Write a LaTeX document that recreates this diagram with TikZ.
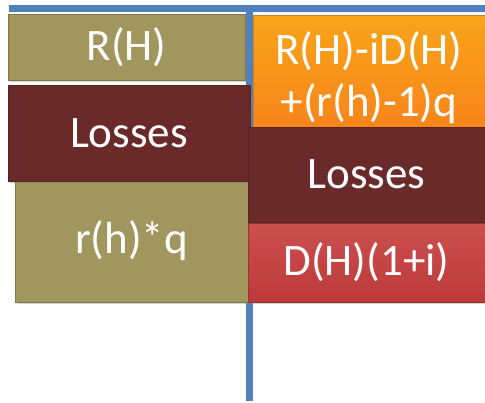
\documentclass[tikz,border=0pt]{standalone}
\usepackage{fontspec}
\setmainfont{Carlito}
\usepackage{xcolor}
\usetikzlibrary{shadows}

\definecolor{olive}{HTML}{A0965E}
\definecolor{lossred}{HTML}{6B2A2A}
\definecolor{debtorange}{HTML}{F7941E}
\definecolor{debtred}{HTML}{C63C3C}
\definecolor{tblue}{HTML}{4F81BD}

\begin{document}
\begin{tikzpicture}[
x=1pt, y=-1pt,
    entry/.style={rectangle, inner sep=0pt, text=white, align=center,
        font=\fontsize{45}{52}\selectfont,
        drop shadow={shadow xshift=2pt, shadow yshift=-2pt, opacity=0.35}},
    assetbox/.style={entry, fill=olive, draw=olive!80!black, line width=0.6pt},
    lossbox/.style={entry, fill=lossred, draw=lossred!80!black, line width=0.6pt},
    orangebox/.style={entry, top color=debtorange!85!yellow, bottom color=debtorange!90!red, draw=debtorange!85!black, line width=0.6pt},
    redbox/.style={entry, top color=debtred!90!white, bottom color=debtred!95!black, draw=debtred!80!black, line width=0.6pt},
    tline/.style={draw=tblue, line width=7pt}
]
    \useasboundingbox (0,0) rectangle (485,402);

    % T-account
    \coordinate (tleft) at (9,8.5);
    \coordinate (tright) at (485,8.5);
    \coordinate (ttop) at (249,5);
    \coordinate (tbottom) at (249,401);
    \draw[tline] (tleft) -- (tright);
    \draw[tline] (ttop) -- (tbottom);

    % Left side
    \node[assetbox, minimum width=237pt, minimum height=66pt] (rh) at (126.5,47) {R(H)};
    \node[assetbox, minimum width=233pt, minimum height=123pt] (rhq) at (131.5,240.5) {r(h)*q};
    \node[lossbox, minimum width=242pt, minimum height=96pt] (lossleft) at (129,133) {Losses};

    % Right side
    \node[orangebox, minimum width=232pt, minimum height=112pt, text height=100pt, text depth=10pt] (equity) at (369,71) {R(H)-iD(H)\\+(r(h)-1)q};
    \node[lossbox, minimum width=237pt, minimum height=95pt] (lossright) at (366.5,174.5) {Losses};
    \node[redbox, minimum width=237pt, minimum height=79pt] (debt) at (366.5,262.5) {D(H)(1+i)};

\end{tikzpicture}
\end{document}
